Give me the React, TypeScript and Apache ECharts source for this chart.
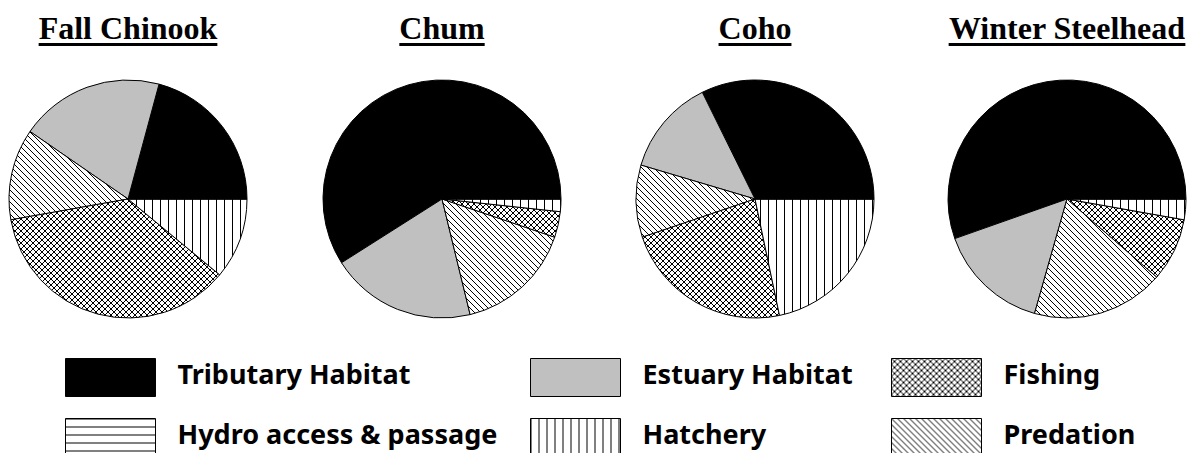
import React, { useEffect, useRef } from 'react';
import * as echarts from 'echarts';

// ---- data ----
const categories = [
  'Tributary Habitat',
  'Estuary Habitat',
  'Predation',
  'Fishing',
  'Hatchery',
  'Hydro access & passage',
];
const speciesTitles = ['Fall Chinook', 'Chum', 'Coho', 'Winter Steelhead'];
const fallChinook = [20.8, 19.6, 12.4, 36.2, 11.0, 0];
const chum = [59.0, 19.8, 16.0, 3.5, 1.7, 0];
const coho = [32.3, 13.1, 9.8, 23.1, 21.7, 0];
const winterSteelhead = [55.4, 15.2, 18.0, 8.6, 2.8, 0];
const legendColumns = [
  ['Tributary Habitat', 'Hydro access & passage'],
  ['Estuary Habitat', 'Hatchery'],
  ['Fishing', 'Predation'],
];

// ---- layout ----
const pieCentersX = [128, 442, 755, 1067];
const pieCenterY = 199;
const pieRadius = 119;
const legendLefts = [65, 530, 891];

function makePattern(kind: string) {
  const sizes: Record<string, number> = { vertical: 8, horizontal: 8, diagonal: 6, cross: 6 };
  const s = sizes[kind];
  const c = document.createElement('canvas');
  c.width = s;
  c.height = s;
  const ctx = c.getContext('2d')!;
  ctx.fillStyle = '#fff';
  ctx.fillRect(0, 0, s, s);
  ctx.strokeStyle = '#000';
  ctx.lineWidth = 1;
  ctx.beginPath();
  if (kind === 'vertical') {
    ctx.moveTo(0.5, 0);
    ctx.lineTo(0.5, s);
  } else if (kind === 'horizontal') {
    ctx.moveTo(0, 0.5);
    ctx.lineTo(s, 0.5);
  }
  if (kind === 'diagonal' || kind === 'cross') {
    for (const o of [-s, 0, s]) {
      ctx.moveTo(o, 0);
      ctx.lineTo(o + s, s);
    }
  }
  if (kind === 'cross') {
    for (const o of [-s, 0, s]) {
      ctx.moveTo(o, s);
      ctx.lineTo(o + s, 0);
    }
  }
  ctx.stroke();
  return { image: c, repeat: 'repeat', imageWidth: s, imageHeight: s };
}

function measure(text: string, font: string) {
  const ctx = document.createElement('canvas').getContext('2d')!;
  ctx.font = font;
  return ctx.measureText(text).width;
}

export default function App() {
  const ref = useRef<HTMLDivElement>(null);
  useEffect(() => {
    if (!ref.current) return;
    const chart = echarts.init(ref.current, undefined, { renderer: 'svg' });
    const fills: Record<string, any> = {
      'Tributary Habitat': '#000000',
      'Estuary Habitat': '#c0c0c0',
      Predation: makePattern('diagonal'),
      Fishing: makePattern('cross'),
      Hatchery: makePattern('vertical'),
      'Hydro access & passage': makePattern('horizontal'),
    };
    const allData = [fallChinook, chum, coho, winterSteelhead];
    const titleFont = 'bold 32px "Liberation Serif"';
    const graphic: any[] = [];
    speciesTitles.forEach((t, i) => {
      const w = measure(t, titleFont);
      graphic.push({
        type: 'text',
        x: pieCentersX[i],
        y: 28,
        style: {
          text: t,
          font: titleFont,
          fill: '#000',
          align: 'center',
          verticalAlign: 'middle',
        },
      });
      graphic.push({
        type: 'rect',
        shape: { x: pieCentersX[i] - w / 2, y: 43, width: w, height: 3 },
        style: { fill: '#000' },
      });
    });
    chart.setOption({
      animation: false,
      backgroundColor: '#fff',
      legend: legendColumns.map((names, k) => ({
        orient: 'vertical',
        left: legendLefts[k],
        top: 358,
        height: 120,
        padding: 0,
        data: names,
        icon: 'rect',
        itemWidth: 90,
        itemHeight: 38,
        itemGap: 21,
        selectedMode: false,
        itemStyle: { borderColor: '#000', borderWidth: 1 },
        formatter: '{t|{name}}',
        textStyle: {
          color: '#000',
          padding: [0, 0, 0, 17],
          rich: {
            t: {
              fontFamily: '"Noto Sans"',
              fontWeight: 'bold',
              fontSize: 27,
              lineHeight: 27,
              color: '#000',
              padding: [0, 0, 8, 0],
            },
          },
        },
      })),
      graphic,
      series: allData.map((vals, i) => ({
        type: 'pie',
        name: speciesTitles[i],
        center: [pieCentersX[i], pieCenterY],
        radius: pieRadius,
        startAngle: 0,
        clockwise: false,
        silent: true,
        label: { show: false },
        labelLine: { show: false },
        emphasis: { disabled: true },
        itemStyle: { borderColor: '#000', borderWidth: 1 },
        data: categories.map((name, j) => ({
          name,
          value: vals[j],
          itemStyle: { color: fills[name] },
        })),
      })),
    });
    return () => chart.dispose();
  }, []);
  return (
    <div
      ref={ref}
      style={{ position: 'absolute', left: 0, top: 0, width: 1188, height: 453 }}
    />
  );
}
